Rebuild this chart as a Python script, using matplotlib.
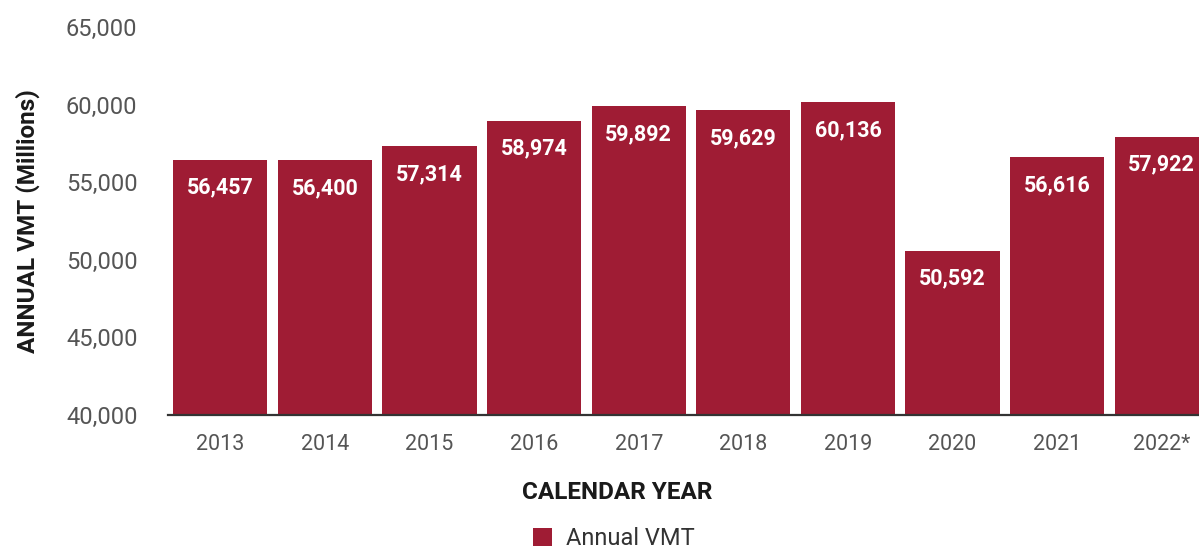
import matplotlib
matplotlib.use("Agg")
import matplotlib.pyplot as plt
from matplotlib.patches import Patch
from matplotlib.ticker import FuncFormatter

years = ["2013", "2014", "2015", "2016", "2017", "2018", "2019", "2020", "2021", "2022*"]
vmt = [56457, 56400, 57314, 58974, 59892, 59629, 60136, 50592, 56616, 57922]

bar_color = "#9F1C34"
plt.rcParams['font.family'] = ['Roboto', 'DejaVu Sans']

fig = plt.figure(figsize=(11.99, 5.48), dpi=100)
ax = fig.add_axes([168/1199, (548-415)/548, (1214-168)/1199, (415-27)/548])

x = list(range(len(years)))
bars = ax.bar(x, vmt, width=0.9, color=bar_color, bottom=0)
ax.set_ylim(40000, 65000)
ax.set_xlim(-0.5, len(years) - 0.5)

ax.set_yticks(range(40000, 65001, 5000))
ax.yaxis.set_major_formatter(FuncFormatter(lambda v, p: f"{int(v):,}"))
ax.set_xticks(x)
ax.set_xticklabels(years)
ax.tick_params(axis='both', length=0, labelcolor='#555555', labelsize=17)
ax.tick_params(axis='x', pad=14)
ax.tick_params(axis='y', pad=22)
for lbl in ax.get_xticklabels():
    lbl.set_fontproperties({'family': 'Roboto', 'size': 15.5})
    lbl.set_color('#555555')

for s in ['top', 'right', 'left']:
    ax.spines[s].set_visible(False)
ax.spines['bottom'].set_color('#333333')
ax.spines['bottom'].set_linewidth(1.6)

for xi, v in zip(x, vmt):
    ax.annotate(f"{v:,}", (xi, v), xytext=(0, -20), textcoords='offset points',
                ha='center', va='center', color='white', fontsize=15.5,
                fontweight='bold')

fig.text(0.023, 0.596, "ANNUAL VMT (Millions)", rotation=90, ha='center', va='center',
         fontsize=17.5, fontweight='bold', color='#1a1a1a')
fig.text(0.515, 0.102, "CALENDAR YEAR", ha='center', va='center',
         fontsize=17.5, fontweight='bold', color='#1a1a1a')

handle = Patch(facecolor=bar_color, edgecolor='none', label='Annual VMT')
fig.legend(handles=[handle], loc='center', bbox_to_anchor=(0.512, 0.017), frameon=False,
           fontsize=17, handlelength=0.8, handleheight=0.8, handletextpad=0.6,
           labelcolor='#333333')

fig.savefig("out.png", dpi=100)
